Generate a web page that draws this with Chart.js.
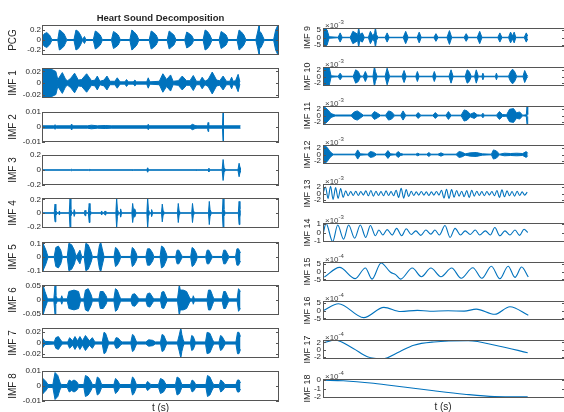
<!DOCTYPE html>
<html>
<head>
<meta charset="utf-8">
<script src="https://cdn.jsdelivr.net/npm/chart.js@4.4.1/dist/chart.umd.min.js"></script>
<style>
    body { margin: 0; width: 564px; height: 412px; overflow: hidden; position: relative; background: #fff;
           font-family: "Liberation Sans", Arial, sans-serif; }
    canvas { position: absolute; }
    .lbl { position: absolute; color: #262626; white-space: nowrap; line-height: 1; }
    .lbl sup { font-size: 6px; vertical-align: 4px; }
</style>
</head>
<body>
<script>
/**
 * Heart sound decomposition (EMD) - PCG signal and its IMFs
 * Dense IMFs are kept as [t (s), envelope amplitude] pairs,
 * slow IMFs as [t (s), value] points. Right-hand IMFs are in x10^-3 / x10^-4 units.
 */

// ---- envelope data: [t, amplitude] ----
const pcg = [[0,0.01],[0.1,0.12],[0.24,0.15],[0.38,0.1],[0.5,0.01],
    [0.8,0.01],[0.88,0.2],[1.0,0.17],[1.12,0.12],[1.25,0.01],
    [1.62,0.01],[1.72,0.2],[1.84,0.17],[1.95,0.1],[2.05,0.01],[2.15,0.07],[2.22,0.01],
    [2.6,0.01],[2.7,0.18],[2.82,0.15],[2.95,0.1],[3.05,0.01],
    [3.52,0.01],[3.62,0.17],[3.74,0.14],[3.86,0.1],[3.96,0.01],
    [4.45,0.01],[4.55,0.2],[4.67,0.16],[4.8,0.1],[4.9,0.01],
    [5.43,0.01],[5.53,0.18],[5.65,0.15],[5.78,0.1],[5.88,0.01],
    [6.34,0.01],[6.44,0.18],[6.56,0.14],[6.68,0.1],[6.78,0.01],
    [7.23,0.01],[7.33,0.16],[7.45,0.13],[7.58,0.09],[7.68,0.01],
    [8.16,0.01],[8.26,0.2],[8.38,0.17],[8.5,0.1],[8.6,0.01],
    [8.97,0.01],[9.07,0.17],[9.19,0.14],[9.32,0.1],[9.42,0.01],
    [9.88,0.01],[9.98,0.2],[10.1,0.16],[10.22,0.1],[10.32,0.01],
    [10.83,0.01],[10.93,0.18],[10.99,0.3],[11.01,0.18],[11.1,0.14],[11.25,0.01],
    [11.73,0.01],[11.83,0.2],[11.95,0.3],[11.97,0.15],[12,0.1]];

const imf1 = [[0,0.012],[0.05,0.025],[0.4,0.025],[0.7,0.02],[0.8,0.006],[1.03,0.018],[1.2,0.006],[1.3,0.004],
    [1.45,0.008],[1.65,0.017],[1.84,0.005],[2.01,0.006],[2.26,0.016],[2.51,0.004],[2.68,0.005],[2.8,0.012],
    [2.93,0.003],[3.14,0.005],[3.29,0.012],[3.44,0.003],[3.69,0.003],[3.81,0.009],[3.95,0.002],[4.2,0.002],
    [4.28,0.006],[4.37,0.002],[4.62,0.002],[4.7,0.005],[4.79,0.002],[5.3,0.002],[5.38,0.009],[5.46,0.002],
    [5.94,0.003],[6.12,0.016],[6.31,0.006],[6.51,0.014],[6.64,0.003],[6.9,0.004],[7.1,0.012],[7.32,0.004],
    [7.49,0.004],[7.66,0.013],[7.82,0.003],[7.99,0.003],[8.11,0.01],[8.25,0.003],[8.41,0.006],[8.62,0.019],
    [8.84,0.005],[9.0,0.004],[9.17,0.012],[9.34,0.003],[9.51,0.003],[9.6,0.01],[9.68,0.003],[9.8,0.004],
    [9.93,0.015],[10.02,0.002]];

const imf2 = [[0,0.0008],[0.6,0.0008],[0.66,0.0015],[0.72,0.0008],[1.45,0.0008],[1.5,0.002],[1.55,0.0008],
    [2.3,0.0008],[2.5,0.0012],[2.8,0.0008],[3.2,0.001],[3.5,0.0008],[5.33,0.0008],[5.38,0.0018],[5.43,0.0008],
    [7.5,0.0008],[7.62,0.0018],[7.75,0.001],[7.85,0.0008],[8.38,0.0008],[8.41,0.003],[8.44,0.0008],
    [9.14,0.0008],[9.17,0.011],[9.19,0.0008],[10.05,0.0008]];

const imf3 = [[0,0.002],[1.45,0.002],[1.5,0.01],[1.55,0.002],[2.36,0.002],[2.39,0.008],[2.42,0.002],
    [4.56,0.002],[4.59,0.006],[4.62,0.002],[5.3,0.002],[5.35,0.03],[5.4,0.002],[7.8,0.002],[7.82,0.006],
    [7.85,0.002],[8.42,0.002],[8.45,0.025],[8.48,0.002],[9.12,0.002],[9.17,0.14],[9.22,0.03],[9.3,0.002],
    [9.92,0.002],[9.98,0.09],[10.03,0.03],[10.05,0.002]];

const imf4 = [[0,0.003],
    [0.62,0.003],[0.66,0.13],[0.7,0.04],[0.76,0.003],[0.85,0.003],[0.88,0.03],[0.92,0.003],
    [1.38,0.003],[1.42,0.22],[1.46,0.05],[1.52,0.003],[1.6,0.003],[1.63,0.05],[1.68,0.003],
    [2.14,0.003],[2.18,0.04],[2.22,0.003],[2.35,0.003],[2.39,0.14],[2.43,0.04],[2.5,0.003],
    [2.98,0.003],[3.02,0.03],[3.07,0.003],[3.15,0.003],[3.19,0.03],[3.23,0.003],
    [3.74,0.003],[3.78,0.22],[3.82,0.05],[3.88,0.003],[3.95,0.003],[3.98,0.06],[4.03,0.003],
    [4.55,0.003],[4.59,0.14],[4.63,0.05],[4.7,0.06],[4.76,0.003],
    [5.31,0.003],[5.35,0.22],[5.39,0.05],[5.45,0.003],[5.52,0.003],[5.55,0.05],[5.6,0.003],
    [6.05,0.003],[6.09,0.13],[6.13,0.04],[6.2,0.003],
    [6.86,0.003],[6.9,0.14],[6.94,0.04],[7.0,0.003],
    [7.58,0.003],[7.62,0.14],[7.66,0.04],[7.72,0.003],
    [8.43,0.003],[8.47,0.17],[8.51,0.05],[8.58,0.003],
    [9.13,0.003],[9.17,0.22],[9.21,0.05],[9.28,0.003],
    [9.94,0.003],[9.98,0.17],[10.02,0.06],[10.05,0.003]];

const imf5 = [[0,0.06],[0.05,0.1],[0.2,0.05],[0.3,0.004],
    [0.62,0.004],[0.7,0.07],[0.83,0.08],[0.95,0.05],[1.03,0.004],
    [1.28,0.004],[1.36,0.1],[1.5,0.09],[1.64,0.05],[1.72,0.004],[1.84,0.03],[1.92,0.05],[2.01,0.004],
    [2.14,0.004],[2.22,0.1],[2.34,0.09],[2.48,0.04],[2.55,0.004],
    [2.82,0.004],[2.9,0.08],[2.97,0.11],[3.05,0.06],[3.14,0.004],
    [3.65,0.004],[3.72,0.07],[3.81,0.06],[3.92,0.03],[3.98,0.004],
    [4.5,0.004],[4.57,0.07],[4.65,0.06],[4.76,0.03],[4.82,0.004],
    [5.26,0.004],[5.34,0.06],[5.46,0.06],[5.6,0.03],[5.66,0.004],
    [5.98,0.004],[6.05,0.08],[6.16,0.07],[6.28,0.03],[6.34,0.004],
    [6.77,0.004],[6.84,0.05],[6.93,0.05],[7.04,0.02],[7.1,0.004],
    [7.53,0.004],[7.6,0.07],[7.69,0.06],[7.8,0.03],[7.86,0.004],
    [8.29,0.004],[8.36,0.05],[8.45,0.05],[8.56,0.02],[8.62,0.004],
    [9.13,0.004],[9.2,0.05],[9.29,0.05],[9.4,0.02],[9.46,0.004],
    [9.8,0.004],[9.87,0.06],[9.95,0.06],[10.05,0.03]];

const imf6 = [[0,0.03],[0.05,0.053],[0.15,0.03],[0.28,0.004],
    [0.6,0.004],[0.66,0.053],[0.7,0.015],[0.78,0.004],[0.95,0.004],[1.0,0.015],[1.05,0.004],
    [1.28,0.004],[1.36,0.03],[1.62,0.035],[1.85,0.03],[1.95,0.004],
    [2.12,0.004],[2.2,0.035],[2.34,0.04],[2.48,0.02],[2.55,0.004],
    [2.88,0.004],[2.95,0.03],[3.1,0.03],[3.24,0.015],[3.3,0.004],
    [3.64,0.004],[3.72,0.04],[3.81,0.035],[3.92,0.015],[3.98,0.004],
    [4.5,0.004],[4.58,0.02],[4.7,0.022],[4.84,0.01],[4.9,0.004],
    [5.26,0.004],[5.34,0.022],[5.46,0.025],[5.6,0.01],[5.66,0.004],
    [6.0,0.004],[6.07,0.028],[6.17,0.03],[6.28,0.012],[6.34,0.004],
    [6.86,0.004],[6.92,0.035],[6.95,0.055],[7.0,0.035],[7.15,0.035],[7.32,0.03],[7.46,0.01],[7.52,0.004],
    [7.62,0.004],[7.66,0.015],[7.72,0.004],
    [8.36,0.004],[8.43,0.035],[8.53,0.035],[8.64,0.015],[8.7,0.004],
    [9.12,0.004],[9.2,0.03],[9.29,0.03],[9.4,0.012],[9.46,0.004],
    [9.88,0.004],[9.95,0.04],[10.05,0.03]];

const imf7 = [[0,0.004],[0.05,0.008],[0.15,0.003],[0.62,0.002],[0.7,0.01],[0.83,0.012],[0.97,0.004],[1.05,0.002],
    [1.3,0.002],[1.4,0.01],[1.55,0.004],[1.67,0.012],[1.8,0.004],[1.92,0.012],[2.05,0.004],[2.2,0.014],
    [2.4,0.004],[2.55,0.01],[2.68,0.002],
    [3.05,0.002],[3.14,0.02],[3.22,0.018],[3.34,0.005],[3.4,0.002],
    [3.66,0.002],[3.75,0.01],[3.86,0.009],[4.0,0.003],[4.06,0.002],
    [4.5,0.002],[4.58,0.016],[4.65,0.014],[4.76,0.004],[4.82,0.002],
    [5.26,0.002],[5.4,0.006],[5.6,0.005],[5.74,0.002],
    [6.0,0.002],[6.08,0.016],[6.17,0.014],[6.28,0.004],[6.34,0.002],
    [6.86,0.002],[6.95,0.015],[7.03,0.028],[7.08,0.016],[7.15,0.006],[7.2,0.002],
    [7.52,0.002],[7.58,0.014],[7.66,0.012],[7.76,0.002],
    [8.28,0.002],[8.36,0.02],[8.5,0.018],[8.64,0.006],[8.7,0.002],
    [8.96,0.002],[9.04,0.014],[9.12,0.012],[9.24,0.004],[9.3,0.002],
    [9.82,0.002],[9.9,0.02],[9.97,0.02],[10.05,0.012]];

const imf8 = [[0,0.002],[0.05,0.005],[0.2,0.003],[0.3,0.001],
    [0.55,0.001],[0.66,0.009],[0.8,0.007],[0.92,0.002],[1.0,0.001],
    [1.28,0.001],[1.38,0.004],[1.5,0.003],[1.62,0.004],[1.75,0.003],[1.85,0.001],
    [2.12,0.001],[2.2,0.007],[2.34,0.006],[2.48,0.003],[2.55,0.001],
    [2.72,0.001],[2.8,0.006],[2.9,0.005],[3.02,0.001],
    [3.64,0.001],[3.72,0.005],[3.81,0.004],[3.94,0.001],
    [4.5,0.001],[4.58,0.006],[4.66,0.005],[4.78,0.001],
    [5.26,0.001],[5.34,0.003],[5.44,0.002],[5.5,0.001],
    [5.9,0.001],[6.0,0.005],[6.15,0.004],[6.28,0.001],
    [6.76,0.001],[6.84,0.006],[6.96,0.005],[7.08,0.001],
    [7.52,0.001],[7.6,0.004],[7.7,0.003],[7.78,0.001],
    [8.3,0.001],[8.38,0.007],[8.5,0.006],[8.64,0.002],[8.7,0.001],
    [8.98,0.001],[9.05,0.004],[9.15,0.003],[9.26,0.001],
    [9.82,0.001],[9.9,0.004],[9.98,0.004],[10.05,0.002]];

// x10^-3
const imf9 = [[0,6.5],[0.2,5],[0.3,0.5],[0.75,0.15],[0.85,3],[0.95,0.15],
    [1.35,0.15],[1.48,4],[1.62,3],[1.72,2],[1.77,6.5],[1.82,2],[1.95,3],[2.05,0.15],
    [2.25,0.15],[2.35,4],[2.47,1],[2.56,3],[2.6,6.5],[2.65,2],[2.72,0.15],
    [3.08,0.15],[3.18,3],[3.28,0.15],[3.98,0.15],[4.1,4],[4.22,0.15],
    [4.67,0.15],[4.77,3.5],[4.87,0.15],[5.5,0.15],[5.6,2.5],[5.7,0.15],
    [6.15,0.15],[6.27,4.5],[6.38,0.15],[7.0,0.15],[7.1,2.5],[7.2,0.15],
    [7.65,0.15],[7.77,4],[7.88,0.15],[8.67,0.15],[8.77,3],[8.87,0.15],
    [9.2,0.15],[9.3,3.5],[9.4,1],[9.48,3.5],[9.56,0.15],[9.98,0.15],[10.08,3],[10.15,1]];

const imf10 = [[0,2.9],[0.3,2.9],[0.4,0.2],[0.75,0.08],[0.85,1],[0.95,0.08],
    [1.5,0.08],[1.62,2],[1.75,1.5],[1.85,0.15],[2.0,0.1],[2.1,1.5],[2.2,0.1],[2.48,0.1],[2.55,3],[2.6,1.5],[2.68,0.1],
    [3.08,0.1],[3.18,2.5],[3.3,0.1],[3.92,0.1],[4.02,1.8],[4.12,0.1],
    [4.6,0.08],[4.68,1.5],[4.76,0.08],[5.44,0.08],[5.52,1.5],[5.6,0.08],
    [6.25,0.08],[6.35,2],[6.45,0.08],
    [7.05,0.08],[7.15,2],[7.25,1.5],[7.35,0.1],[7.52,0.1],[7.6,2],[7.7,0.1],[7.88,0.1],[7.93,1],[7.98,0.08],
    [8.55,0.08],[8.6,1],[8.65,0.08],[9.2,0.1],[9.3,1.5],[9.4,2.2],[9.5,1.5],[9.6,0.1],
    [9.92,0.1],[10.0,1.8],[10.1,0.5],[10.15,0.1]];

const imf11 = [[0,2.9],[0.2,2],[0.4,0.6],[0.6,0.15],[1.4,0.15],[1.55,1.1],[1.7,1.4],[1.85,0.8],[2.0,0.1],
    [2.4,0.1],[2.55,1.2],[2.7,0.7],[2.85,0.1],[3.1,0.1],[3.25,1.4],[3.4,1.1],[3.55,0.1],
    [3.85,0.1],[3.97,1.4],[4.1,0.1],[4.6,0.1],[4.72,0.9],[4.85,0.1],
    [5.45,0.1],[5.57,0.9],[5.7,0.1],[6.1,0.1],[6.22,1.2],[6.35,0.1],
    [6.85,0.1],[7.0,1.7],[7.15,1.4],[7.3,0.4],[7.5,0.9],[7.65,0.2],[7.85,0.1],[7.93,0.7],[8.0,0.1],
    [8.6,0.1],[8.75,1.2],[8.9,0.3],[9.1,0.2],[9.25,1.9],[9.45,2.1],[9.6,0.8],[9.75,1.1],[9.9,0.1],
    [10.08,0.2],[10.12,2.9],[10.15,0.3]];

const imf12 = [[0,1.5],[0.05,2.8],[0.2,2.2],[0.35,0.9],[0.5,0.1],[1.6,0.1],[1.72,1.4],[1.85,0.2],[2.2,0.1],
    [2.35,0.9],[2.5,0.7],[2.65,0.1],[3.08,0.1],[3.22,1.2],[3.35,0.2],[3.6,0.1],[3.72,0.9],[3.85,0.3],[4.0,0.1],
    [4.6,0.1],[4.7,0.4],[4.8,0.1],[5.15,0.1],[5.25,0.6],[5.35,0.1],[5.7,0.1],[5.85,0.5],[6.0,0.1],
    [6.6,0.1],[6.75,0.9],[6.9,0.7],[7.05,0.2],[7.3,0.5],[7.6,0.6],[7.9,0.2],[8.35,0.1],[8.45,1.4],
    [8.6,1.1],[8.75,0.1],[9.0,0.4],[9.3,0.3],[9.6,0.4],[9.9,0.3],[10.08,0.9],[10.15,0.4]];

// ---- waveform data ----
const imf13Dt = 0.125; // s between samples
const imf13 = [0, 2.0, -1.5, 2.2, -1.8, 1.8, -1.5, 1.5, -1.2,
    0.8, -0.7, 0.6, -0.6, 0.7, -0.6, 0.6, -0.5, 0.8, -0.7,
    0.9, -0.8, 0.7, -0.6, 0.6, -0.7, 0.8, -0.6, 0.6, -0.7,
    1.0, -1.2, 1.6, -1.4, 1.2, -0.9, 0.7, -0.6,
    0.5, -0.5, 0.6, -0.5, 0.5, -0.6, 0.5, -0.5, 0.6, -0.5,
    1.0, -1.4, 1.3, -1.5, 1.2, -1.1, 0.9, -0.8,
    0.7, -1.0, 0.9, -1.2, 1.0, -0.8, 0.7, -0.6,
    0.6, -0.7, 0.6, -0.5, 0.6, -0.7, 0.9, -1.2,
    1.1, -1.0, 0.8, -0.7, 0.6, -0.8, 0.7, -0.6, 0.5, -0.5, 0.4];

const imf14 = [[0.02,0],[0.15,1.1],[0.48,-1.1],[0.73,0.9],[1.02,-0.8],[1.27,0.9],[1.57,-0.7],[1.85,0.9],
    [2.12,-0.6],[2.35,0.85],[2.6,-0.4],[2.77,0.3],[2.97,-0.3],[3.18,0.35],[3.43,-0.3],[3.65,0.5],[3.9,-0.4],
    [4.13,0.45],[4.38,-0.25],[4.6,0.2],[4.85,-0.35],[5.1,0.3],[5.35,-0.2],[5.55,0.3],[5.77,-0.3],[6.05,0.85],
    [6.3,-0.6],[6.55,0.5],[6.82,-0.3],[7.05,0.2],[7.3,-0.25],[7.55,0.3],[7.77,-0.3],[8.05,0.2],[8.3,-0.3],
    [8.52,0.6],[8.77,-0.4],[9.02,0.2],[9.27,-0.3],[9.52,0.3],[9.75,-0.35],[9.97,0.4],[10.15,0]];

// x10^-4
const imf15 = [[0.07,-3.5],[0.82,2.6],[1.6,-4.5],[2.1,2.2],[2.43,-4.8],[2.88,5.4],[3.35,-0.5],[3.6,-2],
    [3.85,-4.8],[4.43,2.2],[4.88,-3.3],[5.35,2.2],[5.85,-3.3],[6.38,2.2],[6.85,-4.3],[7.43,2.4],[7.88,-4.3],
    [8.35,3.3],[8.77,-4.6],[9.18,3.3],[9.52,-3.7],[9.85,2.8],[10.18,-3.5]];

const imf16 = [[0.02,0],[0.77,4.3],[2.02,-4.5],[3.02,2],[3.85,-0.6],[4.68,0.1],[5.3,-0.5],[6.2,-0.2],
    [7.0,-0.4],[7.6,0.9],[8.52,-2.4],[9.27,2.4],[10.18,-3]];

const imf17 = [[0.02,1.9],[0.6,2.6],[1.5,0.3],[2.2,-2.0],[2.95,-2.6],[3.8,-0.6],[4.5,1.2],[5.5,2.1],
    [7.2,2.45],[8.7,1.0],[10.15,-0.9]];

const imf18 = [[0.02,0],[1.0,-0.05],[2.5,-0.35],[4.0,-0.8],[5.5,-1.25],[7.0,-1.65],[8.5,-1.92],[10.15,-1.95]];

// ---- panels: label, data, y limits, y ticks, exponent ----
const panels = [
    { label: 'PCG',    kind: 'env', data: pcg,  range: [-0.3, 0.3],     ticks: [-0.2, 0, 0.2] },
    { label: 'IMF 1',  kind: 'env', data: imf1, range: [-0.026, 0.026], ticks: [-0.02, 0, 0.02] },
    { label: 'IMF 2',  kind: 'env', data: imf2, range: [-0.01, 0.01],   ticks: [-0.01, 0, 0.01] },
    { label: 'IMF 3',  kind: 'env', data: imf3, range: [-0.2, 0.2],     ticks: [-0.2, 0, 0.2] },
    { label: 'IMF 4',  kind: 'env', data: imf4, range: [-0.22, 0.22],   ticks: [-0.2, 0, 0.2] },
    { label: 'IMF 5',  kind: 'env', data: imf5, range: [-0.11, 0.11],   ticks: [-0.1, 0, 0.1] },
    { label: 'IMF 6',  kind: 'env', data: imf6, range: [-0.053, 0.053], ticks: [-0.05, 0, 0.05] },
    { label: 'IMF 7',  kind: 'env', data: imf7, range: [-0.028, 0.028], ticks: [-0.02, 0, 0.02] },
    { label: 'IMF 8',  kind: 'env', data: imf8, range: [-0.01, 0.01],   ticks: [-0.01, 0, 0.01] },
    { label: 'IMF 9',  kind: 'env', data: imf9,  range: [-6.2, 6.2],   ticks: [-5, 0, 5], exp: -3 },
    { label: 'IMF 10', kind: 'env', data: imf10, range: [-2.85, 2.85], ticks: [-2, 0, 2], exp: -3 },
    { label: 'IMF 11', kind: 'env', data: imf11, range: [-2.9, 2.9],   ticks: [-2, 0, 2], exp: -3 },
    { label: 'IMF 12', kind: 'env', data: imf12, range: [-2.9, 2.9],   ticks: [-2, 0, 2], exp: -3 },
    { label: 'IMF 13', kind: 'wave', data: imf13.map((v, i) => [i * imf13Dt, v]), range: [-2.9, 2.9], ticks: [-2, 0, 2], exp: -3 },
    { label: 'IMF 14', kind: 'wave', data: imf14, range: [-1.15, 1.15], ticks: [-1, 0, 1], exp: -3 },
    { label: 'IMF 15', kind: 'wave', data: imf15, range: [-6, 6],       ticks: [-5, 0, 5], exp: -4 },
    { label: 'IMF 16', kind: 'wave', data: imf16, range: [-6, 6],       ticks: [-5, 0, 5], exp: -4 },
    { label: 'IMF 17', kind: 'wave', data: imf17, range: [-2.65, 2.65], ticks: [-2, 0, 2], exp: -4 },
    { label: 'IMF 18', kind: 'wave', data: imf18, range: [-2.1, 0.15],  ticks: [-2, -1, 0], exp: -4 }
];

// ---- layout of the two columns ----
const FONT = '"Liberation Sans", Arial, sans-serif';
const BLUE = '#0072BD';
const TEXT = '#262626';
const columns = [
    { first: 0, count: 9,  boxLeft: 42,  boxRight: 279, axisW: 40, titleSize: 10, titlePad: 5,  tickPad: 1,
      top0: 25, step: 43.3, boxH: 30 },
    { first: 9, count: 10, boxLeft: 323, boxRight: 565, axisW: 32, titleSize: 9,  titlePad: 11, tickPad: 2,
      top0: 28, step: 39, boxH: 19 }
];
const PAD = 8;

Chart.defaults.font.family = FONT;

// box round each axes plus inward y ticks on both sides, like MATLAB
const framePlugin = {
    id: 'frame',
    afterDatasetsDraw(chart) {
        const { ctx, chartArea: a, scales: { y } } = chart;
        ctx.save();
        ctx.strokeStyle = '#555';
        ctx.lineWidth = 1;
        ctx.strokeRect(Math.round(a.left) + 0.5, Math.round(a.top) + 0.5,
                       Math.round(a.width) - 1, Math.round(a.height) - 1);
        ctx.beginPath();
        y.ticks.forEach(t => {
            const py = Math.round(y.getPixelForValue(t.value)) + 0.5;
            ctx.moveTo(a.left, py); ctx.lineTo(a.left + 3, py);
            ctx.moveTo(a.right - 3, py); ctx.lineTo(a.right, py);
        });
        ctx.stroke();
        ctx.restore();
    }
};

function buildDatasets(p) {
    if (p.kind === 'env') {
        return [
            { data: p.data.map(([t, a]) => ({ x: t, y: a })), borderColor: BLUE, borderWidth: 1, fill: false },
            { data: p.data.map(([t, a]) => ({ x: t, y: -a })), borderColor: BLUE, backgroundColor: BLUE,
              borderWidth: 1, fill: '-1' }
        ];
    }
    return [{ data: p.data.map(([t, v]) => ({ x: t, y: v })), borderColor: BLUE, borderWidth: 1.1,
              cubicInterpolationMode: 'monotone', fill: false }];
}

function addLabel(html, style) {
    const el = document.createElement('div');
    el.className = 'lbl';
    el.innerHTML = html;
    Object.assign(el.style, style);
    document.body.appendChild(el);
}

columns.forEach(col => {
    for (let i = 0; i < col.count; i++) {
        const p = panels[col.first + i];
        const boxTop = Math.round(col.top0 + i * col.step);
        const canvas = document.createElement('canvas');
        const left = col.boxLeft - col.axisW;
        canvas.width = col.boxRight - left + 1;
        canvas.height = col.boxH + 2 * PAD;
        canvas.style.left = left + 'px';
        canvas.style.top = (boxTop - PAD) + 'px';
        document.body.appendChild(canvas);

        new Chart(canvas, {
            type: 'line',
            data: { datasets: buildDatasets(p) },
            options: {
                responsive: false,
                animation: false,
                events: [],
                layout: { padding: { top: PAD, bottom: PAD, left: 0, right: 1 } },
                elements: { point: { radius: 0 } },
                plugins: { legend: { display: false }, tooltip: { enabled: false } },
                scales: {
                    x: { type: 'linear', min: 0, max: 12, display: false },
                    y: {
                        min: p.range[0],
                        max: p.range[1],
                        grid: { display: false, drawTicks: false },
                        border: { display: false },
                        afterBuildTicks: s => { s.ticks = p.ticks.map(v => ({ value: v })); },
                        afterFit: s => { s.width = col.axisW; },
                        ticks: {
                            autoSkip: false,
                            padding: col.tickPad,
                            color: TEXT,
                            font: { size: 8 },
                            callback: v => String(v)
                        },
                        title: {
                            display: true,
                            text: p.label,
                            color: TEXT,
                            font: { size: col.titleSize },
                            padding: { top: col.titlePad, bottom: 0 }
                        }
                    }
                }
            },
            plugins: [framePlugin]
        });

        if (p.exp) {
            addLabel('\u00d710<sup>' + p.exp + '</sup>',
                     { left: (col.boxLeft + 2) + 'px', top: (boxTop - 9) + 'px', fontSize: '8px', color: '#444' });
        }
    }
});

addLabel('Heart Sound Decomposition', { left: '42px', width: '237px', top: '13px', textAlign: 'center',
                                         fontWeight: 'bold', fontSize: '9.5px' });
addLabel('t (s)', { left: '42px', width: '237px', top: '403px', textAlign: 'center', fontSize: '10px' });
addLabel('t (s)', { left: '323px', width: '240px', top: '402px', textAlign: 'center', fontSize: '10px' });
</script>
</body>
</html>
